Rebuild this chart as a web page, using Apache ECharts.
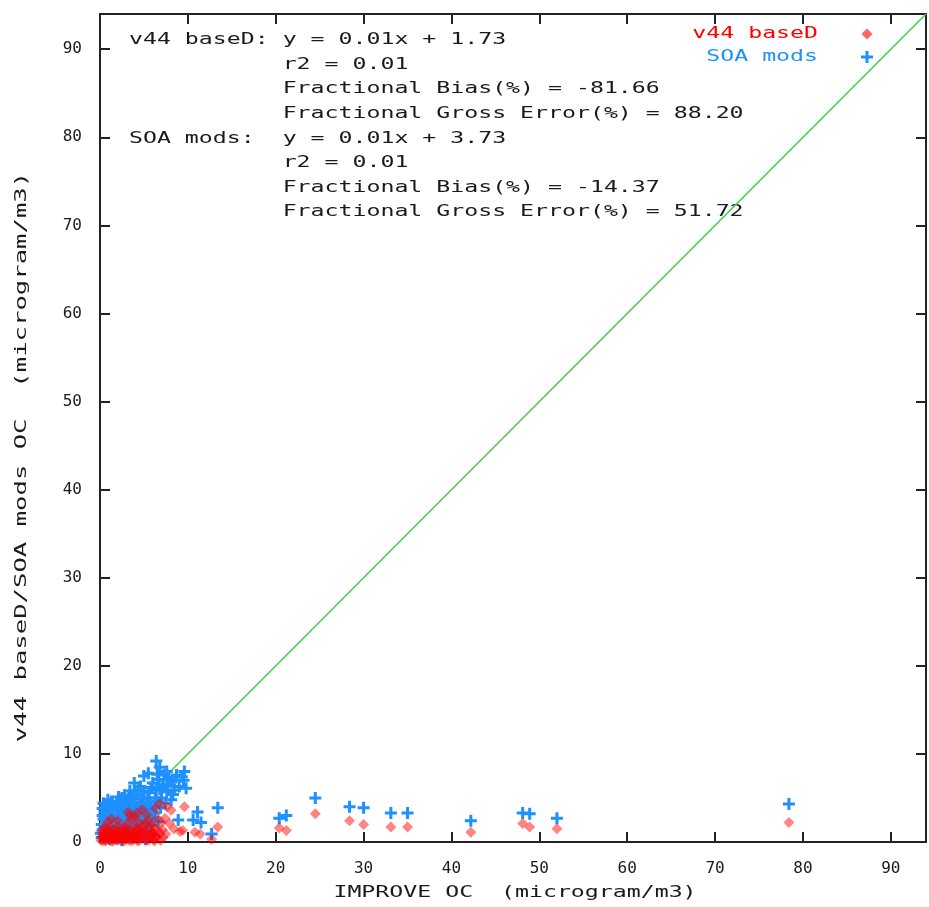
<!DOCTYPE html>
<html>
<head>
<meta charset="utf-8">
<script src="https://cdn.jsdelivr.net/npm/echarts@6/dist/echarts.min.js"></script>
<style>html,body{margin:0;padding:0;background:#fff;}#chart{width:929px;height:907px;}</style>
</head>
<body>
<div id="chart"></div>
<script>
// ---- data ----
const seriesNames = ['v44 baseD', 'SOA mods'];
const baseDPoints = [
 [0.1,0.2],[0.2,0.6],[0.3,0.1],[0.4,1.0],[0.4,1.6],[0.5,0.4],[0.6,1.6],[0.7,0.2],[0.8,0.7],[0.9,2.3],
 [1.0,0.3],[1.1,1.1],[1.2,0.5],[1.3,0.1],[1.4,0.8],[1.5,1.4],[1.6,0.3],[1.7,0.6],[1.7,1.4],[1.8,1.0],
 [1.9,0.2],[2.0,0.5],[2.1,1.8],[2.2,0.8],[2.3,0.2],[2.4,1.2],[2.5,0.4],[2.6,1.6],[2.7,0.7],[2.8,0.1],
 [2.9,1.0],[3.0,0.4],[3.1,2.1],[3.2,3.4],[3.2,0.8],[3.3,0.2],[3.4,1.3],[3.5,0.5],[3.6,2.6],[3.7,0.9],
 [3.8,0.3],[3.9,1.7],[4.0,2.9],[4.0,0.6],[4.1,1.1],[4.2,0.2],[4.3,1.4],[4.4,0.7],[4.5,2.2],[4.6,0.4],
 [4.7,1.0],[4.8,3.7],[4.9,1.9],[5.0,0.5],[5.1,1.3],[5.2,0.2],[5.3,3.1],[5.4,0.9],[5.5,2.5],[5.6,0.4],
 [5.7,1.6],[5.8,0.7],[5.9,2.0],[6.0,1.1],[6.1,0.3],[6.2,1.6],[6.3,3.8],[6.4,0.6],[6.5,2.7],[6.6,1.3],
 [6.8,4.4],[6.8,1.0],[7.0,2.2],[7.2,0.5],[7.4,2.7],[7.6,4.0],[7.9,2.1],[8.1,3.6],[8.4,1.5],[9.1,1.2],
 [0.2,1.2],[0.3,0.8],[0.6,0.1],[0.9,1.3],[1.0,0.8],[1.2,1.7],[1.5,0.1],[1.9,0.7],[2.1,1.1],[2.4,0.6],
 [2.6,0.2],[2.8,1.3],[3.0,1.6],[3.3,1.0],[3.6,0.1],[3.9,0.6],[4.2,1.6],[4.4,0.1],[4.6,1.3],[5.0,1.0],
 [5.2,2.1],[5.5,0.2],[5.9,0.9],[6.2,0.1],[6.5,0.6],[6.9,0.2],[7.1,1.4],[7.5,0.9],[2.0,2.4],[3.4,3.0],
 [4.2,3.3],[1.3,2.6],
 [9.4,1.3],[9.6,4.0],[10.8,1.1],[11.4,0.9],[12.7,0.3],[13.4,1.7],[20.4,1.6],[21.2,1.3],[24.5,3.2],
 [28.4,2.4],[30.0,2.0],[33.1,1.7],[35.0,1.7],[42.2,1.1],[48.1,2.1],[48.9,1.7],[52.0,1.5],[78.4,2.2]
];
const soaPoints = [
 [0.1,1.0],[0.2,0.5],[0.3,1.4],[0.3,3.0],[0.4,2.6],[0.4,4.4],[0.5,3.4],[0.5,1.8],[0.6,4.0],[0.7,2.2],
 [0.8,0.9],[0.9,1.9],[1.0,3.0],[1.0,1.5],[1.1,0.3],[1.2,2.3],[1.2,3.6],[1.3,4.6],[1.4,1.2],[1.5,3.7],
 [1.5,2.0],[1.6,0.6],[1.7,2.8],[1.7,0.9],[1.8,1.7],[1.9,4.2],[2.0,0.4],[2.0,2.6],[2.1,5.1],[2.1,3.3],
 [2.2,2.1],[2.2,4.6],[2.3,1.0],[2.4,3.9],[2.5,0.2],[2.5,3.5],[2.6,2.7],[2.7,1.5],[2.8,5.3],[2.8,4.4],
 [2.9,3.1],[2.9,1.2],[3.0,0.8],[3.0,4.2],[3.1,2.2],[3.2,3.6],[3.3,1.8],[3.3,5.0],[3.4,4.8],[3.5,0.5],
 [3.5,2.9],[3.5,1.6],[3.6,4.1],[3.7,1.3],[3.8,3.4],[3.9,6.7],[3.9,2.4],[4.0,0.9],[4.0,3.0],[4.1,5.4],
 [4.2,3.9],[4.3,1.9],[4.4,5.9],[4.4,2.8],[4.5,4.5],[4.6,0.6],[4.6,4.9],[4.7,3.3],[4.8,1.5],[4.9,5.0],
 [5.0,7.5],[5.0,2.3],[5.1,3.8],[5.2,0.3],[5.3,4.4],[5.4,1.2],[5.5,7.8],[5.5,2.8],[5.6,5.6],[5.7,4.2],
 [5.8,1.9],[5.9,3.5],[6.0,6.7],[6.1,0.7],[6.2,3.3],[6.3,5.0],[6.4,9.2],[6.4,5.9],[6.5,4.6],[6.6,2.3],
 [6.7,7.1],[6.8,8.5],[6.9,3.9],[7.0,5.0],[7.1,6.2],[7.2,6.5],[7.4,4.4],[7.6,8.0],[7.6,5.7],[7.8,7.2],
 [8.1,6.8],[8.1,4.8],[8.3,5.4],[8.5,5.9],[8.7,7.6],[8.9,2.5],[9.0,6.3],[9.3,7.4],[9.5,7.0],[9.6,8.0],
 [0.2,2.0],[0.3,3.8],[0.6,0.6],[0.6,2.9],[0.8,3.6],[0.9,4.8],[1.1,2.6],[1.3,1.8],[1.4,3.2],[1.6,4.0],
 [1.8,2.4],[1.9,3.0],[2.0,1.4],[2.3,2.9],[2.4,4.8],[2.6,1.9],[2.7,3.9],[2.9,2.4],[3.1,4.6],[3.2,1.2],
 [3.4,2.5],[3.6,3.4],[3.7,5.3],[3.8,2.0],[4.0,4.4],[4.2,2.5],[4.3,3.5],[4.5,1.3],[4.7,4.0],[4.8,2.6],
 [5.0,5.8],[5.2,3.2],[5.3,1.7],[5.5,5.0],[5.7,3.0],[5.8,6.2],[6.0,2.6],[6.2,4.1],[6.5,7.7],[6.8,6.0],
 [7.3,7.6],[7.7,6.4],[8.4,7.0],[4.6,6.3],[3.4,5.8],[2.5,5.0],
 [9.8,6.1],[10.6,2.5],[11.1,3.4],[11.5,2.2],[12.7,0.9],[13.4,3.9],[20.4,2.7],[21.2,3.0],[24.5,5.0],
 [28.4,4.0],[30.0,3.9],[33.1,3.3],[35.0,3.3],[42.2,2.4],[48.1,3.3],[48.9,3.2],[52.0,2.7],[78.4,4.3]
];
const oneToOneX = [0, 94];
const oneToOneY = [0, 94];
const statLines = [
  'v44 baseD: y = 0.01x + 1.73',
  '           r2 = 0.01',
  '           Fractional Bias(%) = -81.66',
  '           Fractional Gross Error(%) = 88.20',
  'SOA mods:  y = 0.01x + 3.73',
  '           r2 = 0.01',
  '           Fractional Bias(%) = -14.37',
  '           Fractional Gross Error(%) = 51.72'
];
const xTitle = 'IMPROVE OC  (microgram/m3)';
const yTitle = 'v44 baseD/SOA mods OC  (microgram/m3)';
const axisMin = 0, axisMax = 94, axisStep = 10;

// ---- styles ----
const MONO = '"DejaVu Sans Mono", "Liberation Mono", monospace';
const RED = '#ff0000', BLUE = '#1e90ff', GREEN = '#44cc44', INK = '#1a1a1a';
const RED_FILL = 'rgba(255,0,0,0.6)';
const PLUS = 'path://M4.5,0H7.5V4.5H12V7.5H7.5V12H4.5V7.5H0V4.5H4.5Z';
const SX = 1.45;

const chart = echarts.init(document.getElementById('chart'), null, {renderer: 'canvas'});

function txt(x, y, s, opts) {
  opts = opts || {};
  return {
    type: 'text', x: x, y: y, scaleX: opts.sx || SX, rotation: opts.rot || 0, silent: true,
    style: {
      text: s, font: (opts.size || 16) + 'px ' + MONO, fill: opts.color || INK,
      align: opts.align || 'left', textAlign: opts.align || 'left',
      verticalAlign: 'middle', textVerticalAlign: 'middle'
    }
  };
}

const graphics = [];
statLines.forEach((s, i) => graphics.push(txt(129, 40 + i * 24.6, s)));
graphics.push(txt(818, 34, seriesNames[0], {align: 'right', color: RED}));
graphics.push(txt(818, 57, seriesNames[1], {align: 'right', color: BLUE}));
graphics.push(txt(515, 893, xTitle, {align: 'center'}));
graphics.push(txt(22, 457, yTitle, {align: 'center', rot: Math.PI / 2, sx: 1.6}));
// legend keys
graphics.push({type: 'polygon', silent: true, shape: {points: [[867,28.5],[872.5,34],[867,39.5],[861.5,34]]}, style: {fill: RED_FILL}});
graphics.push({type: 'group', silent: true, children: [
  {type: 'rect', shape: {x: 861, y: 55.5, width: 12, height: 3}, style: {fill: BLUE}},
  {type: 'rect', shape: {x: 865.5, y: 51, width: 3, height: 12}, style: {fill: BLUE}}
]});

const axisCommon = {
  type: 'value', min: axisMin, max: axisMax, interval: axisStep,
  axisLine: {show: true, onZero: false, lineStyle: {color: '#222', width: 2}},
  axisTick: {show: true, inside: true, length: 10, lineStyle: {color: '#222', width: 2}},
  splitLine: {show: false}
};

const option = {
  backgroundColor: '#fff',
  animation: false,
  grid: {left: 100, right: 1, top: 14, bottom: 65, containLabel: false},
  xAxis: [
    Object.assign({}, axisCommon, {position: 'bottom',
      axisLabel: {show: true, margin: 19, color: INK, fontFamily: MONO, fontSize: 16,
        formatter: v => (v > 90 ? '' : String(v))}}),
    Object.assign({}, axisCommon, {position: 'top', axisLabel: {show: false}})
  ],
  yAxis: [
    Object.assign({}, axisCommon, {position: 'left',
      axisLabel: {show: true, margin: 18, color: INK, fontFamily: MONO, fontSize: 16,
        formatter: v => (v > 90 ? '' : String(v))}}),
    Object.assign({}, axisCommon, {position: 'right', axisLabel: {show: false}})
  ],
  series: [
    {
      name: '1:1', type: 'line', xAxisIndex: 0, yAxisIndex: 0,
      data: oneToOneX.map((x, i) => [x, oneToOneY[i]]),
      symbol: 'none', lineStyle: {color: GREEN, width: 1.5}, z: 1, silent: true
    },
    {
      name: seriesNames[1], type: 'scatter', data: soaPoints,
      symbol: PLUS, symbolSize: 12, itemStyle: {color: BLUE, opacity: 1}, z: 2
    },
    {
      name: seriesNames[0], type: 'scatter', data: baseDPoints,
      symbol: 'diamond', symbolSize: [11, 11], itemStyle: {color: RED_FILL}, z: 3
    }
  ],
  graphic: graphics
};
chart.setOption(option);
</script>
</body>
</html>
